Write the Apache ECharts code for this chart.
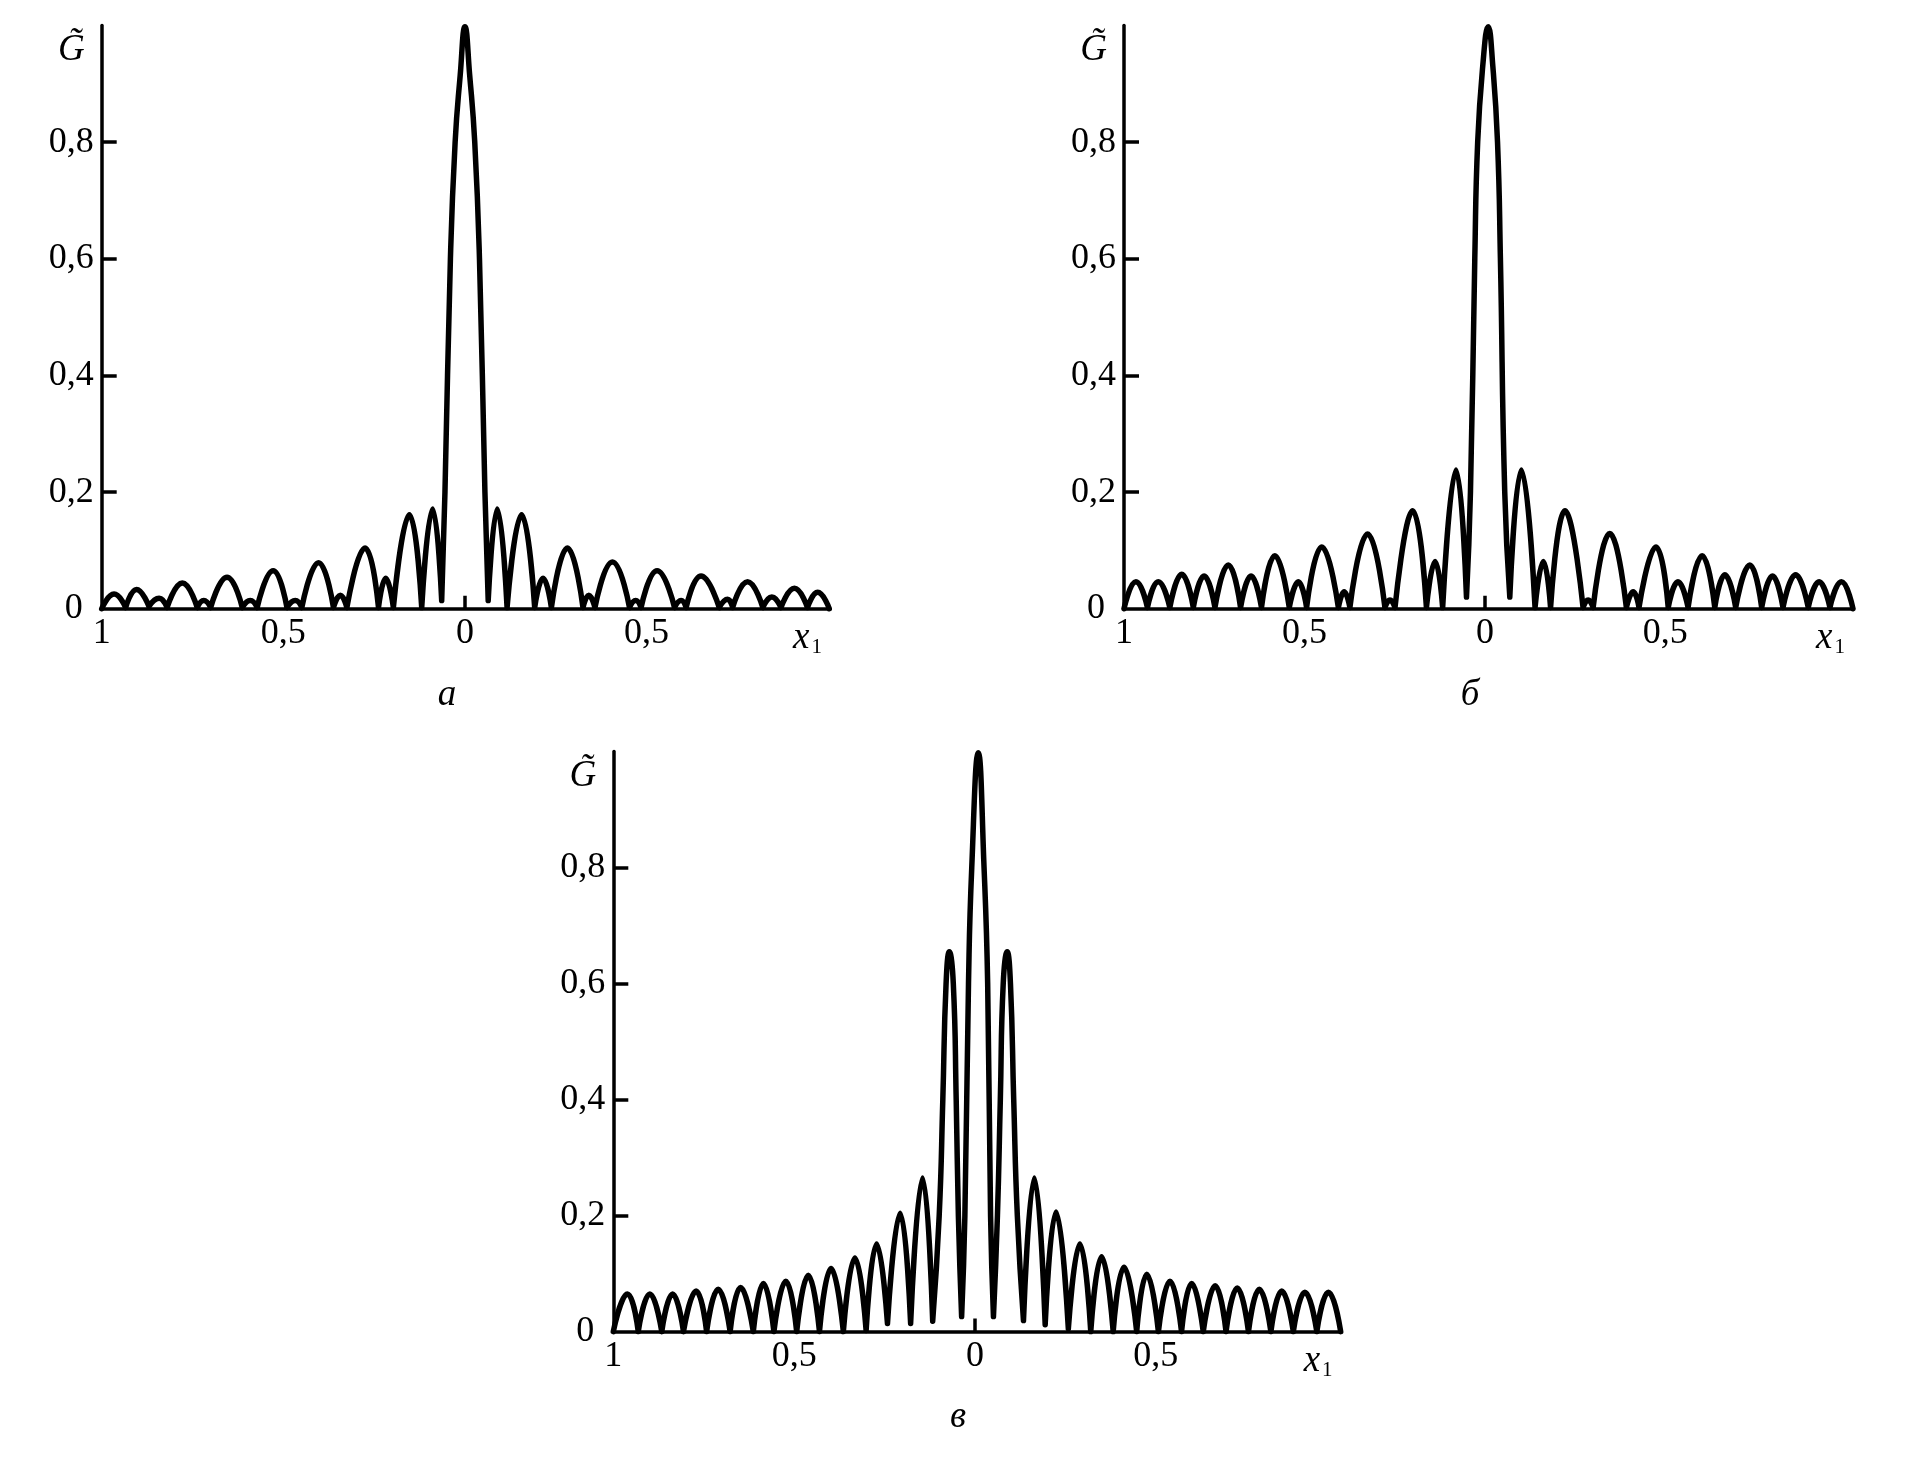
<!DOCTYPE html>
<html>
<head>
<meta charset="utf-8">
<script src="https://cdn.jsdelivr.net/npm/echarts@6/dist/echarts.min.js"></script>
<style>html,body{margin:0;padding:0;background:#fff}#c{width:1905px;height:1458px}</style>
</head>
<body>
<div id="c"></div>
<script>
// Panel а
const xA = [-1.000,-0.966,-0.934,-0.904,-0.870,-0.842,-0.820,-0.778,-0.737,-0.719,-0.700,-0.655,-0.613,-0.591,-0.572,-0.528,-0.490,-0.467,-0.449,-0.403,-0.362,-0.343,-0.325,-0.275,-0.238,-0.218,-0.197,-0.153,-0.119,-0.089,-0.064,-0.055,-0.040,-0.027,-0.013,0.000,0.013,0.027,0.040,0.055,0.064,0.089,0.116,0.156,0.192,0.215,0.238,0.282,0.325,0.341,0.358,0.406,0.453,0.470,0.485,0.529,0.577,0.595,0.609,0.650,0.700,0.723,0.737,0.778,0.820,0.845,0.870,0.907,0.943,0.971,1.003];
const gA = [0.000,0.025,0.002,0.033,0.004,0.018,0.002,0.044,0.002,0.014,0.002,0.054,0.002,0.014,0.002,0.065,0.002,0.014,0.002,0.079,0.002,0.023,0.002,0.104,0.002,0.052,0.002,0.161,0.002,0.171,0.014,0.200,0.600,0.800,0.915,0.998,0.915,0.800,0.600,0.200,0.014,0.171,0.002,0.161,0.002,0.052,0.002,0.104,0.002,0.023,0.002,0.080,0.002,0.014,0.002,0.065,0.002,0.014,0.002,0.056,0.002,0.016,0.002,0.046,0.002,0.020,0.002,0.035,0.002,0.028,0.000];
// Panel б
const xB = [-1.000,-0.967,-0.935,-0.905,-0.873,-0.840,-0.808,-0.778,-0.748,-0.711,-0.677,-0.648,-0.619,-0.582,-0.542,-0.517,-0.494,-0.452,-0.406,-0.390,-0.374,-0.325,-0.277,-0.263,-0.249,-0.200,-0.162,-0.138,-0.117,-0.080,-0.051,-0.040,-0.028,-0.020,-0.006,0.009,0.022,0.035,0.043,0.055,0.069,0.101,0.139,0.162,0.182,0.222,0.272,0.286,0.300,0.346,0.392,0.411,0.427,0.474,0.508,0.535,0.563,0.602,0.637,0.665,0.695,0.734,0.767,0.797,0.826,0.861,0.896,0.926,0.956,0.988,1.020];
const gB = [0.000,0.046,0.002,0.046,0.002,0.059,0.002,0.056,0.002,0.075,0.002,0.056,0.002,0.091,0.002,0.046,0.002,0.106,0.002,0.029,0.002,0.128,0.002,0.015,0.002,0.168,0.002,0.081,0.002,0.238,0.020,0.200,0.600,0.800,0.930,0.998,0.930,0.800,0.600,0.200,0.020,0.238,0.002,0.081,0.002,0.168,0.002,0.015,0.002,0.129,0.002,0.029,0.002,0.106,0.002,0.046,0.002,0.091,0.002,0.058,0.002,0.075,0.002,0.056,0.002,0.058,0.002,0.046,0.002,0.046,0.000];
// Panel в
const xC = [-1.000,-0.961,-0.931,-0.899,-0.866,-0.836,-0.806,-0.771,-0.742,-0.710,-0.677,-0.648,-0.613,-0.585,-0.556,-0.523,-0.493,-0.461,-0.430,-0.398,-0.364,-0.332,-0.301,-0.272,-0.242,-0.207,-0.178,-0.145,-0.117,-0.099,-0.089,-0.080,-0.071,-0.060,-0.052,-0.046,-0.037,-0.028,-0.018,-0.009,0.009,0.025,0.035,0.043,0.051,0.062,0.070,0.078,0.089,0.098,0.107,0.117,0.134,0.164,0.194,0.224,0.258,0.290,0.320,0.350,0.382,0.412,0.447,0.475,0.507,0.539,0.571,0.599,0.631,0.664,0.694,0.725,0.756,0.786,0.818,0.848,0.880,0.912,0.945,0.977,1.011];
const gC = [0.000,0.065,0.000,0.065,0.000,0.065,0.000,0.070,0.000,0.073,0.000,0.076,0.000,0.083,0.000,0.087,0.000,0.097,0.000,0.109,0.000,0.127,0.002,0.151,0.014,0.204,0.014,0.265,0.018,0.200,0.400,0.600,0.655,0.600,0.400,0.200,0.026,0.200,0.600,0.800,0.998,0.800,0.600,0.200,0.026,0.200,0.400,0.600,0.655,0.600,0.400,0.200,0.019,0.265,0.012,0.206,0.005,0.151,0.000,0.129,0.000,0.111,0.000,0.099,0.000,0.087,0.000,0.083,0.000,0.079,0.000,0.075,0.000,0.073,0.000,0.070,0.000,0.068,0.000,0.068,0.000];

const xTickLabels = [-1, -0.5, 0, 0.5];
const yTickLabels = [0, 0.2, 0.4, 0.6, 0.8];
const yTickMarks = [0.2, 0.4, 0.6, 0.8];
const xTickMarks = [0];
const panelNames = ['а', 'б', 'в'];
const xMax = [1.005, 1.02, 1.011];

const FONT = 'Liberation Serif';
const grids = [
  {left: 101.7, top: 25.5, width: 728.3, height: 583.2},
  {left: 1124, top: 25.5, width: 729, height: 583.2},
  {left: 613.3, top: 751.6, width: 727.4, height: 580}
];
const namePos = [[442, 672], [1465, 672], [953, 1394]];

const fmtX = v => (v === 0 ? '0' : (Math.abs(v) === 1 ? '1' : '0,5'));
const fmtY = v => (v === 0 ? '{z|0}' : v.toFixed(1).replace('.', ','));

// Split the curve into lobes at its local minima so each null is a cusp.
function lobes(xs, gs) {
  const out = [];
  for (let k = 0; k < xs.length; k++) {
    out.push([xs[k], gs[k]]);
    const isMin = k > 0 && k < xs.length - 1 && gs[k] <= gs[k - 1] && gs[k] <= gs[k + 1];
    if (isMin) {
      out.push([xs[k], '-']);
      out.push([xs[k], gs[k]]);
    }
  }
  return out;
}

const xAxes = [], yAxes = [], series = [], titles = [];
const datas = [[xA, gA], [xB, gB], [xC, gC]];
for (let i = 0; i < 3; i++) {
  xAxes.push({
    gridIndex: i, type: 'value', min: -1, max: xMax[i],
    axisLine: {show: true, onZero: false, lineStyle: {color: '#000', width: 3.5}},
    axisTick: {show: true, inside: true, length: 13, customValues: xTickMarks, lineStyle: {color: '#000', width: 3.5}},
    axisLabel: {customValues: xTickLabels, formatter: fmtX, fontFamily: FONT, fontSize: 36, color: '#000', margin: 7},
    splitLine: {show: false},
    name: '{x|x}{s|1}', nameLocation: 'end', nameGap: -37,
    nameTextStyle: {verticalAlign: 'top', padding: [10, 0, 0, 0],
      rich: {x: {fontFamily: FONT, fontStyle: 'italic', fontSize: 37, color: '#000'},
             s: {fontFamily: FONT, fontSize: 21, color: '#000', padding: [18, 0, 0, 2]}}}
  });
  yAxes.push({
    gridIndex: i, type: 'value', min: 0, max: 1,
    axisLine: {show: true, onZero: false, lineStyle: {color: '#000', width: 3.5}},
    axisTick: {show: true, inside: true, length: 15, customValues: yTickMarks, lineStyle: {color: '#000', width: 3.5}},
    axisLabel: {customValues: yTickLabels, formatter: fmtY, fontFamily: FONT, fontSize: 36, color: '#000', margin: 8,
      rich: {z: {fontFamily: FONT, fontSize: 36, color: '#000', padding: [0, 11, 0, 0]}}},
    splitLine: {show: false},
    name: 'G\u0303', nameLocation: 'end', nameGap: -25,
    nameTextStyle: {align: 'right', verticalAlign: 'middle', padding: [0, 17, 0, 0],
      fontFamily: FONT, fontStyle: 'italic', fontSize: 37, color: '#000'}
  });
  const [xs, gs] = datas[i];
  series.push({
    type: 'line', xAxisIndex: i, yAxisIndex: i,
    data: lobes(xs, gs),
    showSymbol: false, smooth: 0.5, connectNulls: false, clip: false,
    lineStyle: {color: '#000', width: 5.5, join: 'round', cap: 'round'}, silent: true, animation: false
  });
  titles.push({
    text: panelNames[i], left: namePos[i][0], top: namePos[i][1], textAlign: 'center',
    textStyle: {fontFamily: FONT, fontStyle: 'italic', fontWeight: 'normal', fontSize: 37, color: '#000'}
  });
}

const chart = echarts.init(document.getElementById('c'), null, {renderer: 'canvas'});
chart.setOption({
  backgroundColor: '#fff',
  animation: false,
  title: titles,
  grid: grids,
  xAxis: xAxes,
  yAxis: yAxes,
  series: series
});
</script>
</body>
</html>
